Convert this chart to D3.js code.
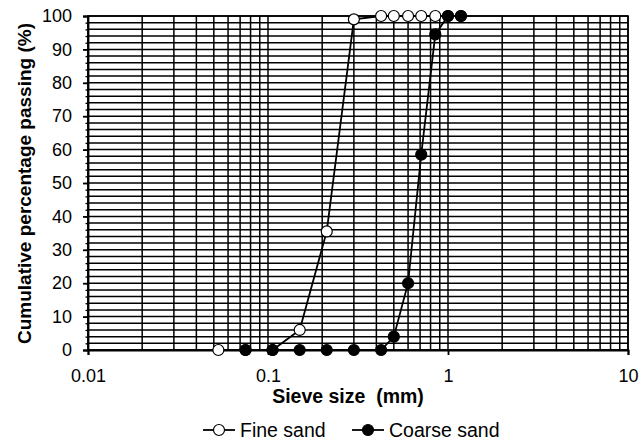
<!DOCTYPE html>
<html><head><meta charset="utf-8">
<script src="https://cdn.jsdelivr.net/npm/d3@7"></script>
<style>
body{margin:0;background:#fff;}
text{font-family:"Liberation Sans",Arial,sans-serif;fill:#000;}
</style></head>
<body><svg id="c" width="642" height="446"></svg>
<script>
const fineSize   = [0.053, 0.075, 0.106, 0.15, 0.212, 0.3, 0.425, 0.5, 0.6, 0.71, 0.85, 1.0, 1.18];
const fineValues = [0, 0, 0, 6, 35.5, 99, 100, 100, 100, 100, 100, 100, 100];
const coarseSize   = [0.075, 0.106, 0.15, 0.212, 0.3, 0.425, 0.5, 0.6, 0.71, 0.85, 1.0, 1.18];
const coarseValues = [0, 0, 0, 0, 0, 0, 4, 20, 58.5, 94.5, 100, 100];
const xTickLabels = ["0.01", "0.1", "1", "10"];
const xTickValues = [0.01, 0.1, 1, 10];
const yTickValues = [0, 10, 20, 30, 40, 50, 60, 70, 80, 90, 100];
const seriesNames = ["Fine sand", "Coarse sand"];

const svg = d3.select("#c");
const L = 88, R = 628, T = 16, B = 350;
const x = d3.scaleLog().domain([0.01, 10]).range([L, R]);
const y = d3.scaleLinear().domain([0, 100]).range([B, T]);
const FONT = "Liberation Sans, Arial, sans-serif";

// grid
const vgrid = [];
[0.01, 0.1, 1].forEach(d => { for (let k = 1; k <= 9; k++) vgrid.push(+(d * k).toPrecision(3)); });
vgrid.push(10);
const hgrid = d3.range(0, 101, 2);
const g = svg.append("g");
g.selectAll(".h").data(hgrid).join("line")
  .attr("x1", L).attr("x2", R).attr("y1", d => y(d)).attr("y2", d => y(d))
  .attr("stroke", "#000").attr("stroke-width", 1.5);
g.selectAll(".v").data(vgrid).join("line")
  .attr("x1", d => x(d)).attr("x2", d => x(d)).attr("y1", T).attr("y2", B)
  .attr("stroke", "#000").attr("stroke-width", 1.5);
svg.append("rect").attr("x", L).attr("y", T).attr("width", R - L).attr("height", B - T)
  .attr("fill", "none").attr("stroke", "#000").attr("stroke-width", 1.6);

// y axis
const yAxis = d3.axisLeft(y).tickValues(yTickValues).tickSize(5).tickPadding(11);
const ya = svg.append("g").attr("transform", `translate(${L},0)`).call(yAxis);
ya.select(".domain").attr("stroke", "#000").attr("stroke-width", 1.8);
ya.selectAll(".tick line").attr("stroke", "#000").attr("stroke-width", 1.8);
ya.selectAll("text").attr("font-size", 18).attr("font-family", FONT).attr("fill", "#222");
const yMinor = d3.axisLeft(y).tickValues(hgrid).tickSize(2.5).tickFormat("");
svg.append("g").attr("transform", `translate(${L},0)`).call(yMinor)
  .call(s => s.select(".domain").remove())
  .selectAll("line").attr("stroke", "#000").attr("stroke-width", 1.3);

// x axis
const xAxis = d3.axisBottom(x).tickValues(xTickValues).tickFormat((d, i) => xTickLabels[i]).tickSize(5).tickPadding(14);
const xa = svg.append("g").attr("transform", `translate(0,${B})`).call(xAxis);
xa.select(".domain").attr("stroke", "#000").attr("stroke-width", 1.8);
xa.selectAll(".tick line").attr("stroke", "#000").attr("stroke-width", 1.8);
xa.selectAll("text").attr("font-size", 18).attr("font-family", FONT).attr("fill", "#222");

// titles
svg.append("text").attr("x", 348).attr("y", 403).attr("text-anchor", "middle")
  .attr("font-size", 19.5).attr("font-weight", "bold").attr("fill", "#111").text("Sieve size\u00a0 (mm)");
svg.append("text").attr("transform", `translate(31,${(T + B) / 2 + 0.5}) rotate(-90)`).attr("text-anchor", "middle")
  .attr("font-size", 19).attr("font-weight", "bold").attr("fill", "#111").text("Cumulative percentage passing (%)");

// series
const line = d3.line().x(d => x(d[0])).y(d => y(d[1]));
const fine = fineSize.map((s, i) => [s, fineValues[i]]);
const coarse = coarseSize.map((s, i) => [s, coarseValues[i]]);
const series = [{data: fine, fill: "#fff"}, {data: coarse, fill: "#000"}];
series.forEach(s => {
  svg.append("path").datum(s.data).attr("d", line).attr("fill", "none").attr("stroke", "#000").attr("stroke-width", 1.8);
});
series.forEach(s => {
  svg.append("g").selectAll("circle").data(s.data).join("circle")
    .attr("cx", d => x(d[0])).attr("cy", d => y(d[1])).attr("r", 5.5)
    .attr("fill", s.fill).attr("stroke", "#000").attr("stroke-width", 1.2);
});

// legend
const leg = [{x: 203, fill: "#fff"}, {x: 352, fill: "#000"}];
leg.forEach((l, i) => {
  const gg = svg.append("g").attr("transform", `translate(${l.x},430)`);
  gg.append("line").attr("x1", 0).attr("x2", 32).attr("y1", 0).attr("y2", 0).attr("stroke", "#000").attr("stroke-width", 1.8);
  gg.append("circle").attr("cx", 16).attr("cy", 0).attr("r", 5.5).attr("fill", l.fill).attr("stroke", "#000").attr("stroke-width", 1.2);
  gg.append("text").attr("x", 37).attr("y", 7).attr("font-size", 19.5).attr("fill", "#222").text(seriesNames[i]);
});
</script></body></html>
